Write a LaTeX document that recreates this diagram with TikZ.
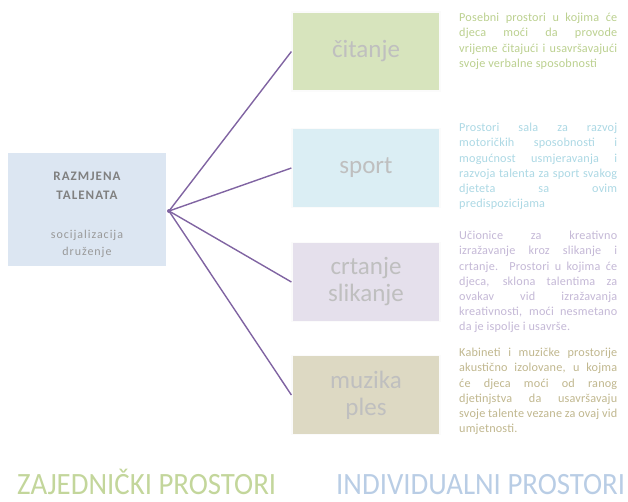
\documentclass[tikz,border=0pt]{standalone}
\usepackage{fontspec}
\setmainfont{Carlito}
\definecolor{gbox}{HTML}{D7E4BD}
\definecolor{bbox}{HTML}{DBEEF4}
\definecolor{pbox}{HTML}{E5E0EC}
\definecolor{tbox}{HTML}{DDD9C3}
\definecolor{lbox}{HTML}{DCE6F2}
\definecolor{gtxt}{HTML}{BBD08F}
\definecolor{btxt}{HTML}{ACD8E4}
\definecolor{ptxt}{HTML}{C4B8D6}
\definecolor{ttxt}{HTML}{C0B78E}
\definecolor{lila}{HTML}{8064A2}
\definecolor{boxlabel}{HTML}{BFBFBF}
\definecolor{ztitle}{HTML}{C3D69B}
\definecolor{ititle}{HTML}{B9CDE5}
\newcommand\nohyph{\hyphenpenalty=10000\relax\exhyphenpenalty=10000\relax}
\newcommand\lb{\linebreak}
\begin{document}
\begin{tikzpicture}[x=1pt,y=1pt,
  catbox/.style={draw=white!85!black!10, line width=1.2pt, minimum width=148pt, minimum height=79pt, inner sep=0pt, align=center, text=boxlabel, font=\fontsize{25}{27}\selectfont},
  desc/.style={anchor=north west, inner sep=0pt, text width=158pt, align=justify, font=\fontsize{12.2}{15.2}\selectfont\addfontfeatures{LetterSpace=1.5}},
  conn/.style={draw=lila, line width=1.4pt},
  title/.style={anchor=base west, inner sep=0pt, font=\fontsize{31}{31}\selectfont, xscale=0.93}]
\useasboundingbox (0,0) rectangle (628,-501);
\node[fill=lbox, minimum width=158pt, minimum height=113pt, inner sep=0pt] (main) at (87,-209.5) {};
\node[text=black!50, font=\bfseries\fontsize{13}{19}\selectfont\addfontfeatures{LetterSpace=8}, align=center] (mt) at (87,-186) {RAZMJENA\\TALENATA};
\node[text=black!40, font=\fontsize{12}{17}\selectfont\addfontfeatures{LetterSpace=8}, align=center] (ms) at (87,-243.5) {socijalizacija\\druženje};
\coordinate (hub) at (169,-211);
\node[catbox, fill=gbox] (c1) at (366,-51.5) {čitanje};
\node[catbox, fill=bbox] (c2) at (366,-168) {sport};
\node[catbox, fill=pbox] (c3) at (366,-282) {crtanje\\slikanje};
\node[catbox, fill=tbox] (c4) at (366,-395) {muzika\\ples};
\draw[conn] (hub) -- (c1.west);
\draw[conn] (hub) -- (c2.west);
\draw[conn] (hub) -- (c3.west);
\draw[conn] (hub) -- (c4.west);
\fill[lila] (hub) circle (2pt);
\node[desc, text=gtxt] (d1) at (459,-13) {\nohyph Posebni prostori u kojima će\lb{} djeca moći da provode\lb{} vrijeme čitajući i usavršavajući\lb{} svoje verbalne sposobnosti};
\node[desc, text=btxt] (d2) at (459,-123) {\nohyph Prostori sala za razvoj\lb{} motoričkih sposobnosti i\lb{} mogućnost usmjeravanja i\lb{} razvoja talenta za sport svakog\lb{} djeteta sa ovim\lb{} predispozicijama};
\node[desc, text=ptxt] (d3) at (459,-231) {\nohyph Učionice za kreativno\lb{} izražavanje kroz slikanje i\lb{} crtanje. Prostori u kojima će\lb{} djeca, sklona talentima za\lb{} ovakav vid izražavanja\lb{} kreativnosti, moći nesmetano\lb{} da je ispolje i usavrše.};
\node[desc, text=ttxt] (d4) at (459,-348) {\nohyph Kabineti i muzičke prostorije\lb{} akustično izolovane, u kojma\lb{} će djeca moći od ranog\lb{} djetinjstva da usavršavaju\lb{} svoje talente vezane za ovaj vid\lb{} umjetnosti.};
\node[title, text=ztitle] (t1) at (17,-494) {ZAJEDNIČKI PROSTORI};
\node[title, text=ititle] (t2) at (336,-494) {INDIVIDUALNI PROSTORI};
\end{tikzpicture}
\end{document}
